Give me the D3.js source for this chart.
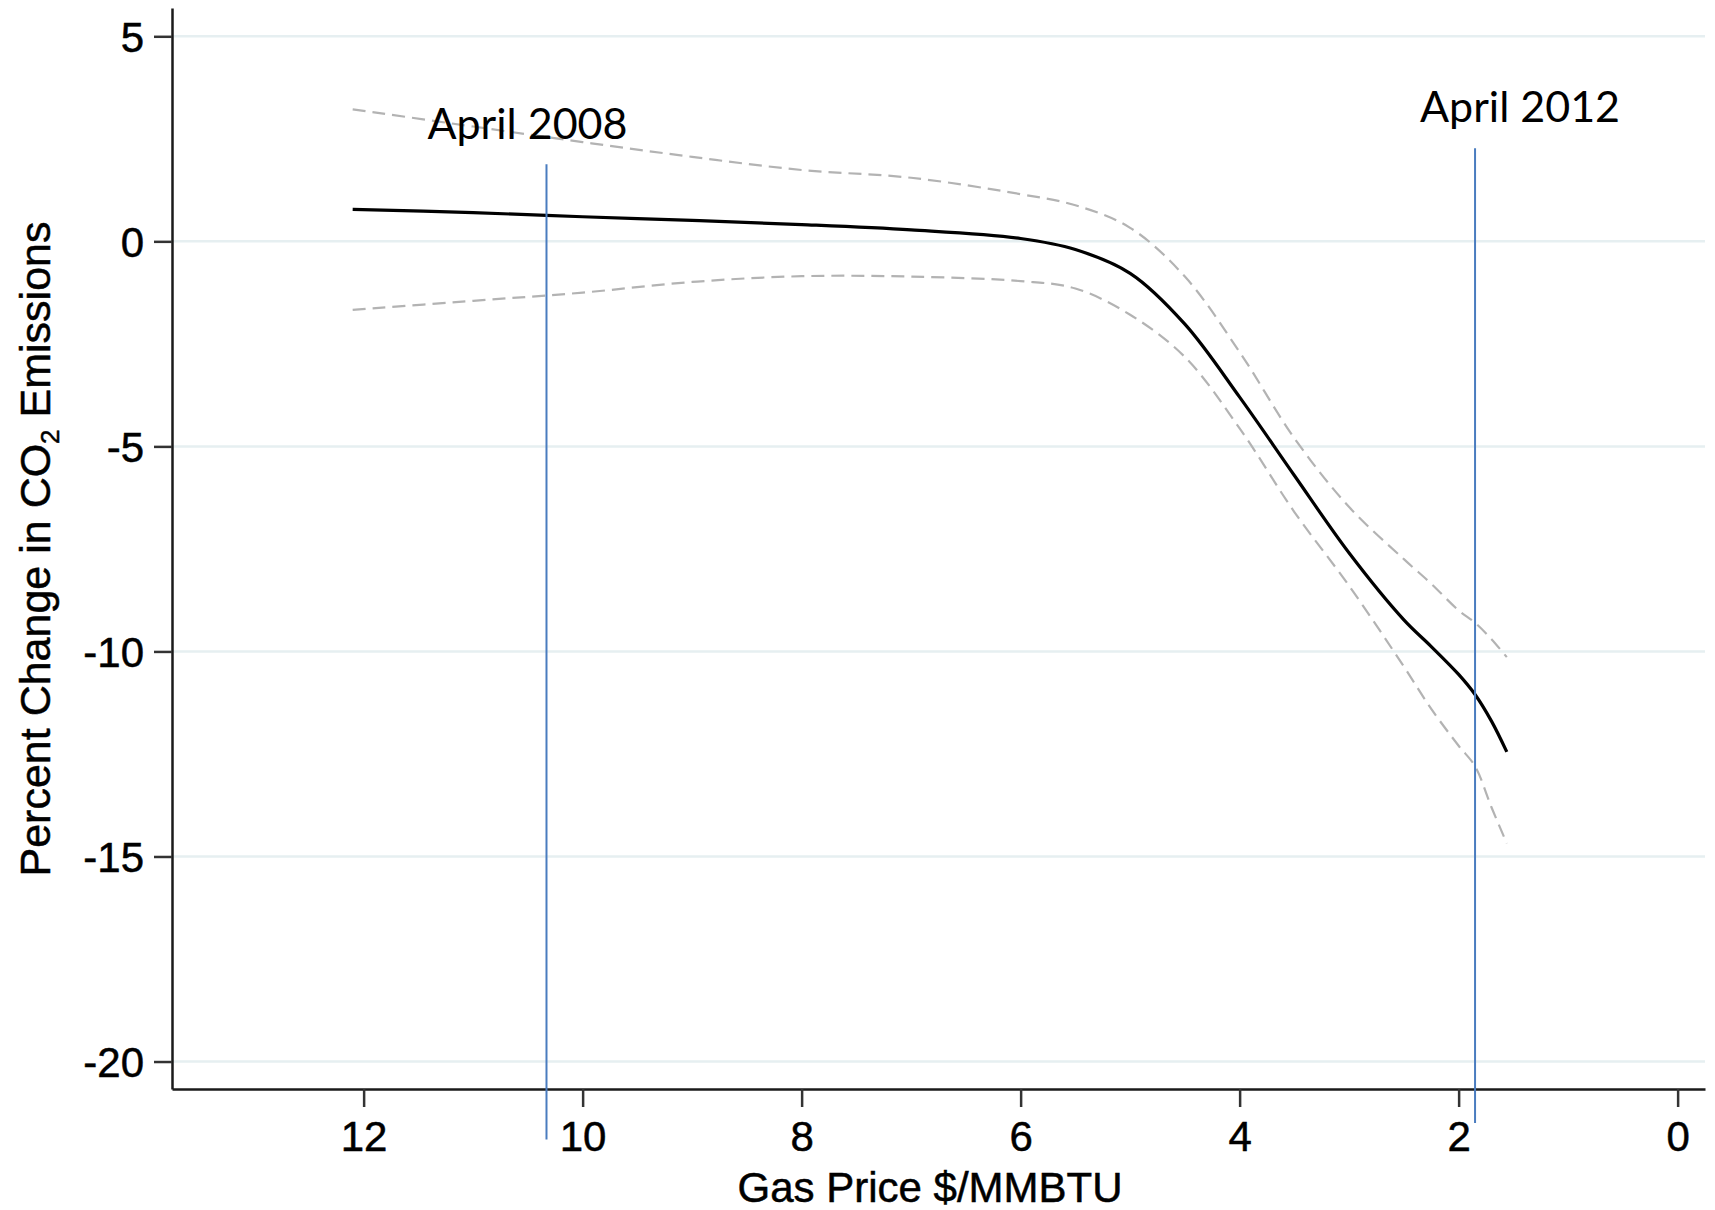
<!DOCTYPE html>
<html>
<head>
<meta charset="utf-8">
<script src="https://cdn.jsdelivr.net/npm/d3@7"></script>
<style>
  html, body { margin: 0; padding: 0; background: #fff; }
  svg { display: block; }
  .tick text { font-family: "Liberation Sans", Arial, Helvetica, sans-serif; fill: #000; stroke: #000; stroke-width: 0.5; }
</style>
</head>
<body>
<svg id="chart" width="1715" height="1210"></svg>
<script>
// Gas price ($/MMBTU) at which the fitted curve and its band are evaluated
const prices   = [12.1, 11, 10, 9, 8, 7, 6, 5.5, 5, 4.5, 4, 3.5, 3, 2.5, 2.25, 2, 1.85, 1.7, 1.56];
// Estimated percent change in CO2 emissions
const estimate = [0.78, 0.70, 0.60, 0.51, 0.41, 0.28, 0.07, -0.20, -0.78, -2.02, -3.80, -5.71, -7.60, -9.23, -9.88, -10.56, -11.05, -11.70, -12.45];
// Upper and lower confidence bounds
const upper    = [3.22, 2.80, 2.42, 2.06, 1.74, 1.55, 1.15, 0.88, 0.33, -0.86, -2.70, -4.80, -6.48, -7.75, -8.35, -9.00, -9.30, -9.70, -10.14];
const lower    = [-1.67, -1.45, -1.25, -0.99, -0.85, -0.86, -0.97, -1.15, -1.79, -2.82, -4.56, -6.60, -8.40, -10.37, -11.40, -12.30, -12.80, -13.80, -14.68];

// Axis ticks
const xTicks = [12, 10, 8, 6, 4, 2, 0];
const yTicks = [5, 0, -5, -10, -15, -20];

// Reference dates marked on the price axis
const markLabels = ["April 2008", "April 2012"];
const markPrices = [10.33, 1.85];
const markTop    = [1.88, 2.27];
const markBottom = [-21.9, -21.5];
const labelLevel = [2.49, 2.91];

const svg = d3.select("#chart");

const x = d3.scaleLinear().domain([13.75, -0.25]).range([172, 1705]);
const y = d3.scaleLinear().domain([-20.67, 5.69]).range([1089, 8]);

// Horizontal grid
svg.append("g")
  .selectAll("line")
  .data(yTicks)
  .join("line")
  .attr("x1", x.range()[0])
  .attr("x2", x.range()[1])
  .attr("y1", d => y(d))
  .attr("y2", d => y(d))
  .attr("stroke", "#e6eff1")
  .attr("stroke-width", 2.5);

// Y axis
const yAxis = svg.append("g")
  .attr("transform", `translate(${x.range()[0]},0)`)
  .call(d3.axisLeft(y).tickValues(yTicks).tickFormat(d => String(d)).tickSize(18).tickPadding(10).tickSizeOuter(0));
yAxis.select(".domain").attr("stroke", "#1a1a1a").attr("stroke-width", 2.5);
yAxis.selectAll(".tick line").attr("stroke", "#333").attr("stroke-width", 2.5);
yAxis.selectAll(".tick text").attr("font-size", 42).attr("dy", "0.36em");

// X axis
const xAxis = svg.append("g")
  .attr("transform", `translate(0,${y.range()[0]})`)
  .call(d3.axisBottom(x).tickValues(xTicks).tickFormat(d => String(d)).tickSize(18).tickPadding(14).tickSizeOuter(0));
xAxis.select(".domain").attr("stroke", "#1a1a1a").attr("stroke-width", 2.5);
xAxis.selectAll(".tick line").attr("stroke", "#333").attr("stroke-width", 2.5);
xAxis.selectAll(".tick text").attr("font-size", 42).attr("dy", "0.71em");

// Axis titles
svg.append("text")
  .attr("x", 930)
  .attr("y", 1202)
  .attr("text-anchor", "middle")
  .attr("font-family", "'Liberation Sans', Arial, Helvetica, sans-serif")
  .attr("font-size", 42)
  .attr("fill", "#000")
  .attr("stroke", "#000")
  .attr("stroke-width", 0.5)
  .text("Gas Price $/MMBTU");

const yTitle = svg.append("text")
  .attr("transform", "translate(50,549) rotate(-90)")
  .attr("text-anchor", "middle")
  .attr("font-family", "'Liberation Sans', Arial, Helvetica, sans-serif")
  .attr("font-size", 43)
  .attr("fill", "#000")
  .attr("stroke", "#000")
  .attr("stroke-width", 0.5);
yTitle.append("tspan").text("Percent Change in CO");
yTitle.append("tspan").attr("font-size", 26).attr("dy", 9).text("2");
yTitle.append("tspan").attr("dy", -9).text(" Emissions");

// Curves
const pts = ys => prices.map((p, i) => [p, ys[i]]);
const line = d3.line()
  .x(d => x(d[0]))
  .y(d => y(d[1]))
  .curve(d3.curveCatmullRom.alpha(0.5));

[upper, lower].forEach(series => {
  svg.append("path")
    .attr("d", line(pts(series)))
    .attr("fill", "none")
    .attr("stroke", "#b3b3b3")
    .attr("stroke-width", 2.2)
    .attr("stroke-dasharray", "13,7");
});

svg.append("path")
  .attr("d", line(pts(estimate)))
  .attr("fill", "none")
  .attr("stroke", "#000")
  .attr("stroke-width", 3.2)
  .attr("stroke-linejoin", "round");

// Date markers
const labelShift = [-119, 45];
markPrices.forEach((p, i) => {
  svg.append("line")
    .attr("x1", x(p)).attr("x2", x(p))
    .attr("y1", y(markTop[i])).attr("y2", y(markBottom[i]))
    .attr("stroke", "#4a7cbf")
    .attr("stroke-width", 2);
  svg.append("text")
    .attr("x", x(p) + labelShift[i])
    .attr("y", y(labelLevel[i]))
    .attr("text-anchor", i === 0 ? "start" : "middle")
    .attr("font-family", "Lato, 'Open Sans', sans-serif")
    .attr("font-size", 43)
    .attr("fill", "#000")
    .text(markLabels[i]);
});
</script>
</body>
</html>
